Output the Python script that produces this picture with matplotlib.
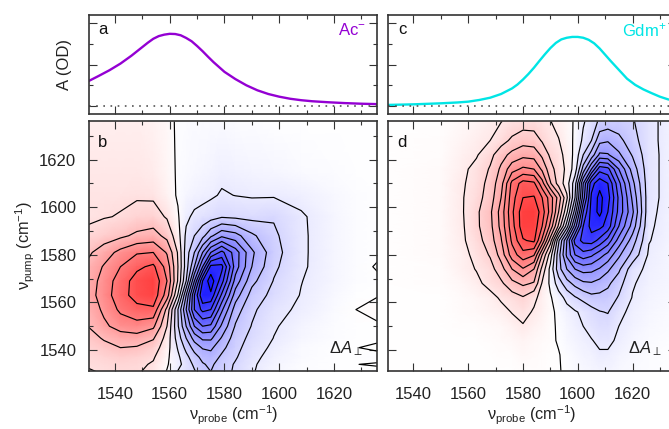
import matplotlib
matplotlib.use("Agg")
import matplotlib.pyplot as plt
from matplotlib.colors import LinearSegmentedColormap, TwoSlopeNorm
from matplotlib.ticker import MultipleLocator

plt.rcParams['font.family'] = ['Liberation Sans', 'DejaVu Sans']
plt.rcParams['mathtext.fontset'] = 'custom'
plt.rcParams['mathtext.rm'] = 'Liberation Sans'
plt.rcParams['mathtext.it'] = 'Liberation Sans:italic'
plt.rcParams['mathtext.bf'] = 'Liberation Sans:bold'

# linear spectra
ac_x = [1530, 1534, 1538, 1542, 1546, 1550, 1552, 1554, 1556, 1558, 1560, 1562, 1564, 1566, 1568, 1570, 1572, 1574, 1576,
        1580, 1584, 1588, 1592, 1596, 1600, 1604, 1608, 1612, 1618, 1624, 1630, 1636]
ac_y = [.118, .145, .173, .205, .243, .285, .306, .325, .338, .345, .349, .348, .342, .329, .313, .290, .265, .238, .212,
        .165, .130, .100, .076, .058, .045, .035, .028, .023, .018, .014, .011, .009]
gdm_x = [1530, 1540, 1550, 1556, 1560, 1564, 1568, 1572, 1576, 1578, 1580, 1582, 1584, 1586, 1588, 1590, 1592, 1594, 1596, 1598, 1600,
         1602, 1604, 1606, 1608, 1610, 1612, 1615, 1618, 1621, 1624, 1627, 1630, 1633, 1636]
gdm_y = [.005, .008, .013, .017, .021, .029, .040, .058, .085, .104, .128, .155, .185, .218, .25, .280, .305, .322, .33, .334, .334,
         .330, .320, .303, .278, .248, .218, .175, .132, .102, .080, .062, .045, .032, .024]

# 2D maps, rows go from the top of the panel down
ac_probe = [1530, 1536, 1542, 1548, 1554, 1559, 1563, 1566, 1569, 1572, 1575, 1579, 1584, 1590, 1598, 1608, 1620, 1628, 1636]
ac_pump = [1636, 1615, 1605, 1596, 1588, 1581, 1575, 1569, 1563, 1557, 1550, 1545, 1541, 1537, 1534, 1531]
ac_map = [
    [.5, .5, .5, .5, .4, .2, -.1, -.15, -.2, -.2, -.2, -.2, -.15, -.1, -.05, -.05, -.05, -.05, -.05],
    [.7, .7, .7, .7, .6, .3, -.1, -.2, -.3, -.4, -.55, -.75, -.6, -.5, -.4, -.2, -.1, -.05, -.05],
    [.85, .85, .85, .9, .85, .4, -.1, -.4, -.6, -.7, -.85, -1.1, -.98, -.9, -.9, -.7, -.3, -.1, -.05],
    [.85, .95, 1.05, 1.3, 1.4, .9, .1, -.8, -1.2, -1.4, -1.6, -1.9, -1.8, -1.7, -1.9, -1.12, -.45, -.1, -.05],
    [1.2, 1.5, 1.8, 2.2, 2.4, 1.7, .4, -1.2, -2, -2.7, -3.8, -4.8, -4.4, -3.2, -2.2, -1.15, -.45, -.1, -.05],
    [1.8, 2.5, 3.3, 3.9, 4.0, 2.9, .9, -1.5, -3, -5, -7, -8.3, -6.5, -4.2, -2.4, -1.15, -.45, -.1, -.05],
    [2.2, 3.1, 4.0, 4.8, 5.2, 3.6, 1.0, -1.5, -4, -7, -10.3, -10.3, -6.5, -4.0, -2.2, -1.15, -.4, -.1, .03],
    [2.4, 3.4, 4.5, 5.4, 5.8, 4.0, .9, -2, -6, -10, -11.6, -9.4, -5.6, -3.3, -1.95, -1.03, -.4, -.1, -.05],
    [2.5, 3.5, 4.6, 5.4, 5.7, 3.5, -.1, -4, -8, -10.9, -10.8, -7.8, -4.5, -2.6, -1.7, -.95, -.3, -.05, -.02],
    [2.3, 3.2, 4.2, 4.7, 4.8, 1.7, -2.0, -5, -8, -9.3, -9, -6.2, -3.5, -2.2, -1.35, -.8, -.2, 0.0, .15],
    [2.0, 2.8, 3.4, 3.6, 3.2, 1, -1.9, -4, -6, -7, -6.8, -4.8, -2.9, -1.95, -1.1, -.55, -.15, -.08, -.06],
    [1.6, 2.1, 2.5, 2.6, 2.1, .6, -1.5, -3, -4.4, -5.2, -5.2, -3.9, -2.5, -1.7, -.98, -.4, -.1, -.08, -.06],
    [1.3, 1.7, 2.0, 1.9, 1.5, .4, -1.1, -2.3, -3.4, -4.1, -4.2, -3.3, -2.3, -1.5, -.8, -.25, -.08, -.01, .06],
    [1.1, 1.3, 1.5, 1.4, 1.1, .2, -.8, -1.7, -2.6, -3.3, -3.6, -2.8, -2.1, -1.3, -.6, -.2, -.08, -.05, -.1],
    [1.03, 1.15, 1.25, 1.2, .9, .1, -.7, -1.4, -2.2, -2.9, -3.2, -2.5, -1.9, -1.15, -.5, -.15, -.06, -.005, .03],
    [.97, 1.03, 1.1, 1.1, .75, -.05, -1.05, -1.5, -1.9, -2.6, -3.0, -2.4, -1.85, -1.1, -.4, -.1, -.05, -.03, -.08],
]

gdm_probe = [1530, 1550, 1558, 1563, 1568, 1572, 1576, 1580, 1584, 1587, 1590, 1593, 1596, 1599, 1602, 1605, 1608, 1611, 1615, 1620, 1626, 1636]
gdm_pump = [1636, 1628, 1622, 1616, 1610, 1604, 1598, 1592, 1586, 1580, 1574, 1568, 1562, 1556, 1550, 1544, 1538, 1531]
gdm_map = [
    [.01, .05, .3, .5, .8, .97, 1.3, 1.5, 1.5, 1.25, 1.03, .7, .3, -.1, -.9, -1.4, -2.2, -2.4, -2.4, -2.1, -1.3, -.4],
    [.01, .1, .5, .75, 1.0, 1.6, 2.2, 2.6, 2.5, 1.9, 1.3, 1.05, .5, -.2, -1.2, -2, -3.7, -3.9, -3.3, -2.4, -1.3, -.4],
    [.01, .15, .7, .9, 1.7, 2.6, 3.3, 3.7, 3.6, 2.8, 1.8, 1.3, .7, -.3, -2.0, -3.4, -5.2, -5.1, -4.2, -2.9, -1.35, -.4],
    [.01, .18, .8, 1.3, 2.1, 3.2, 4.6, 5.2, 5.0, 3.8, 2.4, 1.5, .8, -.5, -3.4, -6, -8.6, -8.3, -6, -3.6, -1.35, -.4],
    [.01, .2, .9, 1.4, 2.4, 3.6, 6.3, 7.4, 7.2, 5.4, 3.1, 1.6, .5, -1.6, -6, -9.6, -10.7, -10, -7.3, -4.3, -1.35, -.4],
    [.01, .2, .95, 1.6, 2.5, 4, 6.6, 8.0, 8.1, 7, 5.5, 3.6, 1.2, -2, -6.5, -10.2, -11.3, -10.4, -7.8, -4.8, -1.35, -.4],
    [.01, .22, .95, 1.8, 2.8, 4.4, 6.8, 8.6, 8.8, 7.5, 5.6, 3, .2, -3.5, -8, -10.4, -11.3, -10, -7.7, -5.2, -1.25, -.4],
    [.01, .22, .9, 1.8, 2.7, 4.3, 6.6, 8.6, 8.6, 7, 4.7, 1.8, -1.5, -5.5, -9, -10.4, -10.3, -9.6, -7, -4.6, -1.15, -.4],
    [.01, .2, .85, 1.6, 2.5, 3.9, 6.2, 7.9, 8.2, 5.8, 2.5, -1.8, -5, -8.4, -9.3, -9.5, -8.7, -7.6, -5.6, -3.5, -1.05, -.35],
    [.01, .18, .7, 1.3, 2.1, 3.4, 5.5, 6.6, 6.1, 3, .5, -2.6, -5.2, -7, -7.6, -7.2, -6.4, -5.7, -4.2, -2.7, -.85, -.3],
    [.01, .15, .65, 1.05, 1.6, 2.6, 4, 4.9, 4, 1.7, -.3, -2.6, -4, -5, -5.4, -5.3, -4.9, -4.2, -3.2, -1.4, -.75, -.3],
    [.01, .1, .4, .75, 1.35, 1.8, 2.7, 3.2, 2.9, .9, -.2, -1.5, -2.6, -3.3, -3.8, -3.9, -3.6, -3.2, -2.4, -1.1, -.6, -.3],
    [.01, .06, .25, .4, .65, 1.15, 1.5, 1.9, 1.2, .7, .1, -.55, -1.3, -1.9, -2.3, -2.7, -2.7, -2.6, -1.9, -.95, -.5, -.2],
    [.01, .04, .18, .3, .45, .65, 1.05, 1.3, .9, .55, .2, -.2, -.6, -.9, -1.2, -1.6, -1.95, -2.05, -1.3, -.7, -.4, -.15],
    [.01, .03, .1, .15, .25, .35, .6, .93, .6, .4, .15, -.1, -.4, -.7, -1.0, -1.3, -1.6, -1.6, -1.0, -.6, -.3, -.1],
    [.01, .02, .05, .08, .12, .2, .3, .5, .35, .25, .1, -.05, -.3, -.5, -.7, -.95, -1.2, -1.25, -.8, -.45, -.2, -.08],
    [.01, .01, .03, .05, .07, .1, .15, .3, .2, .15, .08, .03, -.15, -.3, -.5, -.65, -.88, -.85, -.5, -.3, -.12, -.05],
    [.01, .01, .02, .03, .04, .05, .08, .15, .12, .1, .05, .02, -.05, -.2, -.3, -.4, -.5, -.5, -.3, -.2, -.1, -.03],
]

ac_levels = list(range(-11, 6))
gdm_levels = list(range(-11, 9))

W, H = 669, 429
XLIM = (1530.7, 1635.7)
YLIM = (1531.2, 1636.2)
cmap = LinearSegmentedColormap.from_list("rwb", ["#0000ff", "#ffffff", "#ff0000"])
norm_ac = TwoSlopeNorm(vcenter=0, vmin=-12.5, vmax=7.8)
norm_gdm = TwoSlopeNorm(vcenter=0, vmin=-12.5, vmax=11.5)
EDGE = "#333333"
TXT = "#222222"


def make_axes(x0, x1, ytop, ybot):
    return fig.add_axes([x0 / W, 1 - ybot / H, (x1 - x0) / W, (ybot - ytop) / H])


def style(ax):
    ax.tick_params(which="major", direction="in", top=True, right=True, length=5.5, width=0.8,
                   color=EDGE, labelsize=12, labelcolor=TXT)
    ax.tick_params(which="minor", direction="in", top=True, right=True, length=2.8, width=0.8, color=EDGE)
    ax.tick_params(axis="x", which="major", pad=11.5)
    ax.tick_params(axis="y", which="major", pad=9.5)
    for s in ax.spines.values():
        s.set_linewidth(1.2)
        s.set_edgecolor(EDGE)
    ax.set_xlim(*XLIM)
    ax.xaxis.set_major_locator(MultipleLocator(20))
    ax.xaxis.set_minor_locator(MultipleLocator(10))


def top_panel(x0, x1, xs, ys, col):
    ax = make_axes(x0, x1, 15, 114)
    style(ax)
    ax.plot(xs, ys, color=col, lw=1.7)
    ax.axhline(0, color="#555555", lw=1.2, ls=(0, (1, 3.3)))
    ax.set_ylim(-0.0387, 0.44)
    ax.yaxis.set_major_locator(MultipleLocator(0.2))
    ax.yaxis.set_minor_locator(MultipleLocator(0.1))
    ax.set_xticklabels([])
    ax.set_yticklabels([])
    return ax


def map_panel(x0, x1, probe, pump, z, levels, norm):
    ax = make_axes(x0, x1, 121, 371)
    style(ax)
    ax.pcolormesh(probe, pump, z, cmap=cmap, norm=norm, shading="gouraud", rasterized=True)
    ax.contour(probe, pump, z, levels=levels, colors="k", linewidths=0.85, negative_linestyles="solid")
    ax.set_ylim(*YLIM)
    ax.yaxis.set_major_locator(MultipleLocator(20))
    ax.yaxis.set_minor_locator(MultipleLocator(10))
    ax.set_xlabel(r"$\mathrm{\nu_{probe}}$ (cm$^{\mathrm{-1}}$)", fontsize=11.7, color=TXT, labelpad=1.5)
    return ax


fig = plt.figure(figsize=(W / 100, H / 100), dpi=100)

ax_a = top_panel(89.5, 377, ac_x, ac_y, "#9400d3")
ax_c = top_panel(388, 675.5, gdm_x, gdm_y, "#00e5e5")
ax_b = map_panel(89.5, 377, ac_probe, ac_pump, ac_map, ac_levels, norm_ac)
ax_d = map_panel(388, 675.5, gdm_probe, gdm_pump, gdm_map, gdm_levels, norm_gdm)
ax_d.set_yticklabels([])

ax_a.set_ylabel("A (OD)", fontsize=12, color=TXT)
ax_a.yaxis.set_label_coords(-0.062, 0.5)
ax_b.set_ylabel(r"$\mathrm{\nu_{pump}}$ (cm$^{\mathrm{-1}}$)", fontsize=11.7, color=TXT)
ax_b.yaxis.set_label_coords(-0.184, 0.5)

for t, x, y in [("a", 103, 30), ("b", 103, 143), ("c", 402, 30), ("d", 402, 143)]:
    fig.text(x / W, 1 - y / H, t, fontsize=12, ha="center", va="center", color="#111111")
fig.text(366 / W, 1 - 30 / H, "Ac$^{\\mathrm{-}}$", fontsize=12, color="#9400d3", ha="right", va="center")
fig.text(666 / W, 1 - 30 / H, "Gdm$^{\\mathrm{+}}$", fontsize=12, color="#00e5e5", ha="right", va="center")
fig.text(363 / W, 1 - 349 / H, r"$\Delta A_{\perp}$", fontsize=12, color=TXT, ha="right", va="center")
fig.text(662 / W, 1 - 349 / H, r"$\Delta A_{\perp}$", fontsize=12, color=TXT, ha="right", va="center")

fig.savefig("out.png", dpi=100)
